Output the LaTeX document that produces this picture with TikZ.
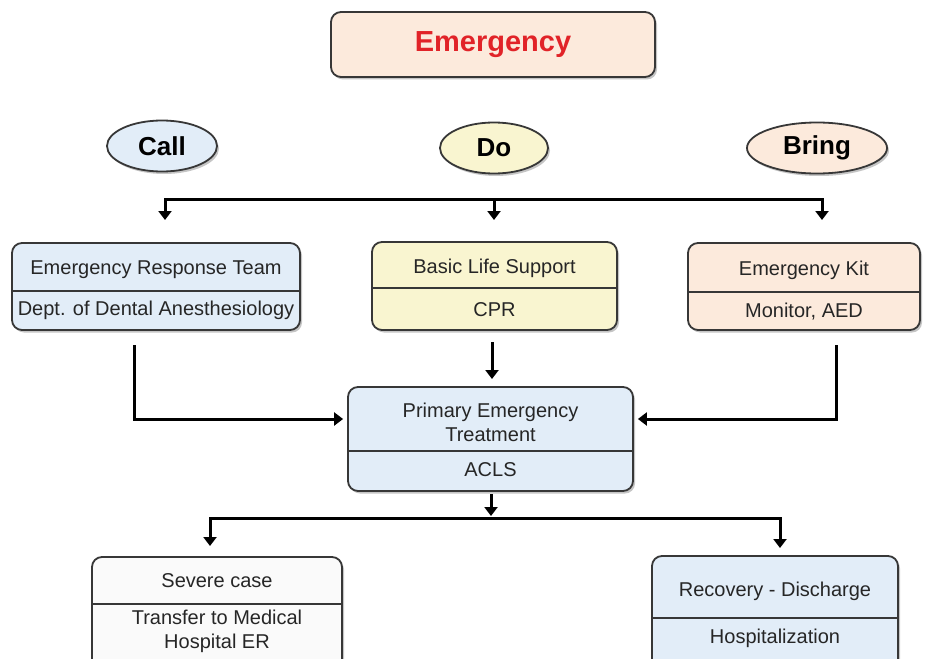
\documentclass[tikz,border=0pt]{standalone}
\usepackage{fontspec}
\setmainfont{Liberation Sans}
\usetikzlibrary{shapes.geometric,arrows.meta,shadows}
\definecolor{lblue}{RGB}{226,237,248}
\definecolor{lyel}{RGB}{249,245,208}
\definecolor{lpeach}{RGB}{252,234,220}
\definecolor{lwhite}{RGB}{250,250,250}
\definecolor{edge}{RGB}{55,55,55}
\definecolor{ered}{RGB}{225,35,40}
\begin{document}
\begin{tikzpicture}[x=1pt,y=-1pt,
  shad/.style={drop shadow={shadow xshift=2pt,shadow yshift=-2.5pt,opacity=0.45}},
  box/.style={draw=edge, line width=1.8pt, rounded corners=10pt, shad, inner sep=0},
  oval/.style={ellipse, draw=edge, line width=1.8pt, shad, inner sep=0,
    font=\fontsize{26}{28}\selectfont\bfseries, minimum width=110pt, minimum height=51pt},
  txt/.style={font=\fontsize{20}{24}\selectfont, text=black!85, align=center, inner sep=0},
  divider/.style={draw=edge, line width=1.6pt},
  arr/.style={line width=3pt, line join=miter, -{Triangle[width=13pt,length=9pt]}},
  arrs/.style={line width=3pt, line join=miter, {Triangle[width=13pt,length=9pt]}-{Triangle[width=13pt,length=9pt]}}]
\clip (0,0) rectangle (925,658);
\fill[white] (0,0) rectangle (925,658);

% title
\node[box, fill=lpeach, minimum width=324pt, minimum height=65pt,
  font=\fontsize{29}{32}\selectfont\bfseries, text=ered] (em) at (493,44.5) {Emergency};

% ovals
\node[oval, fill=lblue] (call) at (162,146) {Call};
\node[oval, fill=lyel, minimum width=108pt] (do) at (494,148) {Do};
\node[oval, fill=lpeach, minimum width=140pt] (bring) at (817,148) {Bring};

% second row boxes
\node[box, fill=lblue, minimum width=288pt, minimum height=87pt] (ert) at (156,286.5) {};
\draw[divider] (ert.west |- 0,291) -- (ert.east |- 0,291);
\node[txt] (ert1) at (156,270) {Emergency Response Team};
\node[txt] (ert2) at (156,310) {Dept. of Dental Anesthesiology};

\node[box, fill=lyel, minimum width=245pt, minimum height=88pt] (bls) at (494.5,286) {};
\draw[divider] (bls.west |- 0,288) -- (bls.east |- 0,288);
\node[txt] (bls1) at (494.5,268) {Basic Life Support};
\node[txt] (bls2) at (494.5,310) {CPR};

\node[box, fill=lpeach, minimum width=232pt, minimum height=87pt] (kit) at (804,286.5) {};
\draw[divider] (kit.west |- 0,292) -- (kit.east |- 0,292);
\node[txt] (kit1) at (804,270) {Emergency Kit};
\node[txt] (kit2) at (804,312) {Monitor, AED};

% primary treatment
\node[box, fill=lblue, minimum width=285pt, minimum height=104pt] (pet) at (490.5,439) {};
\draw[divider] (pet.west |- 0,451) -- (pet.east |- 0,451);
\node[txt] (pet1) at (490.5,422) {Primary Emergency\\Treatment};
\node[txt] (pet2) at (490.5,470) {ACLS};

% bottom boxes
\node[box, fill=lwhite, minimum width=250pt, minimum height=113pt] (sev) at (217,613.5) {};
\draw[divider] (sev.west |- 0,604) -- (sev.east |- 0,604);
\node[txt] (sev1) at (217,581) {Severe case};
\node[txt] (sev2) at (217,631) {Transfer to Medical\\Hospital ER};

\node[box, fill=lblue, minimum width=246pt, minimum height=114pt] (rec) at (775,613) {};
\draw[divider] (rec.west |- 0,618) -- (rec.east |- 0,618);
\node[txt] (rec1) at (775,591) {Recovery - Discharge};
\node[txt] (rec2) at (775,638) {Hospitalization};

% connectors
\coordinate (t1) at (165,220);
\coordinate (t2) at (494,220);
\coordinate (t3) at (822,220);
\coordinate (tm) at (494,199);
\draw[arrs] (t1) |- (tm) -| (t3);
\draw[arr] (tm) -- (t2);

\coordinate (c1) at (492,342);
\coordinate (c2) at (492,379);
\draw[arr] (c1) -- (c2);

\coordinate (e1) at (134,345);
\coordinate (k1) at (836,345);
\draw[arr] (e1) |- ([yshift=20pt,xshift=-4pt]pet.west);
\draw[arr] (k1) |- ([yshift=20pt,xshift=4pt]pet.east);

\coordinate (p1) at (491,494);
\coordinate (bm) at (491,518);
\coordinate (b1) at (210,546);
\coordinate (b2) at (780,548);
\draw[arr] (p1) -- ([yshift=2pt]bm);
\draw[arrs] (b1) |- (bm) -| (b2);
\end{tikzpicture}
\end{document}
